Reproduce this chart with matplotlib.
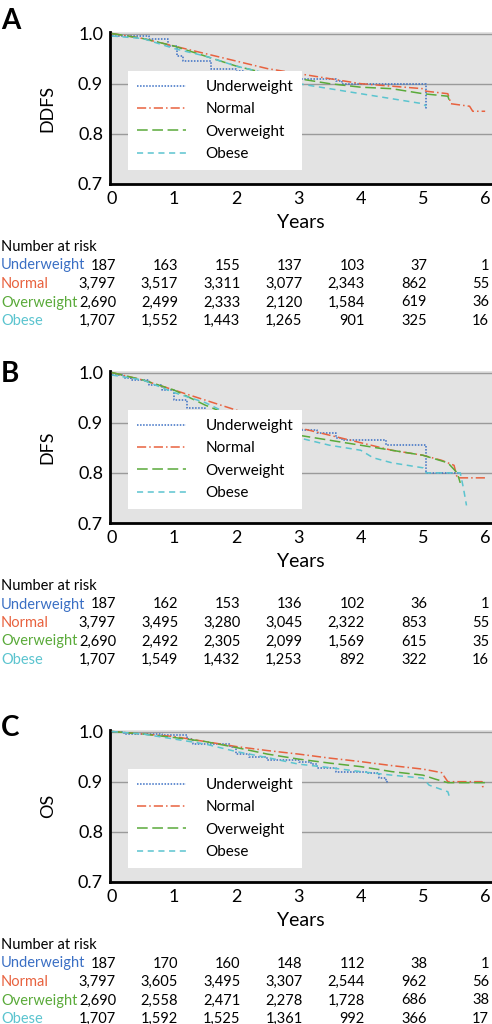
import matplotlib
matplotlib.use('Agg')
import matplotlib.pyplot as plt

plt.rcParams['font.family'] = ['Lato', 'DejaVu Sans']

W, H = 492, 1024
groups = ['Underweight', 'Normal', 'Overweight', 'Obese']
colors = ['#3a6fc4', '#e8623f', '#5aaa3a', '#5bc4cf']
styles = [(0, (1, 1)), (0, (6, 2, 1, 2)), (0, (7, 3)), (0, (4, 3))]
years = [0, 1, 2, 3, 4, 5, 6]

# panel A: DDFS
a_t = [
    [0, 0.6, 0.9, 1.05, 1.15, 1.6, 2.0, 2.1, 3.0, 3.6, 3.7, 5.05, 5.06],
    [0, 0.5, 1, 1.5, 2, 2.5, 3, 3.5, 4, 4.5, 5, 5.05, 5.4, 5.45, 5.75, 5.8, 6.0],
    [0, 0.5, 1, 1.5, 2, 2.5, 3, 3.5, 4, 4.5, 5, 5.4, 5.42],
    [0, 0.5, 1, 1.5, 2, 2.5, 3, 3.5, 4, 4.5, 5, 5.05],
]
a_s = [
    [0.995, 0.99, 0.975, 0.955, 0.945, 0.93, 0.925, 0.915, 0.91, 0.905, 0.9, 0.85, 0.85],
    [1.0, 0.99, 0.975, 0.96, 0.945, 0.93, 0.92, 0.91, 0.9, 0.895, 0.89, 0.885, 0.88, 0.86, 0.855, 0.845, 0.845],
    [1.0, 0.99, 0.975, 0.955, 0.935, 0.92, 0.91, 0.9, 0.893, 0.89, 0.88, 0.875, 0.868],
    [0.995, 0.99, 0.97, 0.955, 0.935, 0.92, 0.9, 0.89, 0.88, 0.87, 0.86, 0.855],
]
a_risk = [
    ['187', '163', '155', '137', '103', '37', '1'],
    ['3,797', '3,517', '3,311', '3,077', '2,343', '862', '55'],
    ['2,690', '2,499', '2,333', '2,120', '1,584', '619', '36'],
    ['1,707', '1,552', '1,443', '1,265', '901', '325', '16'],
]

# panel B: DFS
b_t = [
    [0, 0.2, 0.3, 0.6, 0.8, 1.0, 1.2, 1.5, 1.6, 2.0, 2.1, 2.5, 3.0, 3.3, 3.6, 3.7, 4.4, 5.05, 5.6],
    [0, 0.5, 1, 1.5, 2, 2.5, 3, 3.5, 4, 4.5, 5, 5.3, 5.5, 5.55, 6.0],
    [0, 0.5, 1, 1.5, 2, 2.5, 3, 3.5, 4, 4.5, 5, 5.4, 5.55, 5.6],
    [0, 0.5, 1, 1.5, 2, 2.5, 3, 3.5, 4, 4.2, 4.5, 5, 5.05, 5.6, 5.65, 5.7],
]
b_s = [
    [0.995, 0.99, 0.985, 0.975, 0.965, 0.945, 0.93, 0.92, 0.91, 0.905, 0.895, 0.89, 0.885, 0.88, 0.87, 0.865, 0.855, 0.8, 0.8],
    [1.0, 0.985, 0.965, 0.945, 0.925, 0.905, 0.89, 0.875, 0.86, 0.845, 0.835, 0.825, 0.815, 0.79, 0.79],
    [1.0, 0.985, 0.965, 0.935, 0.91, 0.895, 0.875, 0.865, 0.855, 0.845, 0.835, 0.82, 0.8, 0.78],
    [0.995, 0.985, 0.96, 0.94, 0.91, 0.89, 0.87, 0.855, 0.845, 0.83, 0.82, 0.81, 0.8, 0.8, 0.77, 0.735],
]
b_risk = [
    ['187', '162', '153', '136', '102', '36', '1'],
    ['3,797', '3,495', '3,280', '3,045', '2,322', '853', '55'],
    ['2,690', '2,492', '2,305', '2,099', '1,569', '615', '35'],
    ['1,707', '1,549', '1,432', '1,253', '892', '322', '16'],
]

# panel C: OS
c_t = [
    [0, 0.2, 0.8, 1.2, 1.3, 1.9, 2.0, 2.2, 2.5, 3.0, 3.2, 3.3, 3.6, 4.1, 4.3, 4.4, 4.42],
    [0, 0.5, 1, 1.5, 2, 2.5, 3, 3.5, 4, 4.5, 5, 5.3, 5.4, 5.95, 5.96, 6.0],
    [0, 0.5, 1, 1.5, 2, 2.5, 3, 3.5, 4, 4.5, 5, 5.2, 5.4, 6.0],
    [0, 0.5, 1, 1.5, 2, 2.5, 3, 3.5, 4, 4.5, 5, 5.1, 5.4, 5.42],
]
c_s = [
    [1.0, 0.995, 0.993, 0.985, 0.975, 0.97, 0.955, 0.95, 0.944, 0.94, 0.935, 0.927, 0.92, 0.918, 0.907, 0.903, 0.895],
    [1.0, 0.995, 0.99, 0.98, 0.97, 0.962, 0.955, 0.947, 0.94, 0.932, 0.925, 0.918, 0.9, 0.9, 0.89, 0.89],
    [1.0, 0.995, 0.988, 0.98, 0.968, 0.955, 0.945, 0.937, 0.93, 0.92, 0.913, 0.905, 0.898, 0.898],
    [1.0, 0.995, 0.985, 0.975, 0.96, 0.948, 0.935, 0.928, 0.92, 0.913, 0.907, 0.893, 0.88, 0.872],
]
c_risk = [
    ['187', '170', '160', '148', '112', '38', '1'],
    ['3,797', '3,605', '3,495', '3,307', '2,544', '962', '56'],
    ['2,690', '2,558', '2,471', '2,278', '1,728', '686', '38'],
    ['1,707', '1,592', '1,525', '1,361', '992', '366', '17'],
]

panels = [
    ('A', 'DDFS', a_t, a_s, a_risk, 8, 32),
    ('B', 'DFS', b_t, b_s, b_risk, 361, 371),
    ('C', 'OS', c_t, c_s, c_risk, 715, 730),
]

fig = plt.figure(figsize=(W / 100, H / 100), dpi=100)


def fx(px):
    return px / W


def fy(py):
    return 1 - py / H


for letter, ylab, ts, ss, risk, ly, top in panels:
    bottom = top + 152
    ax = fig.add_axes([fx(110), fy(bottom), fx(382), 152 / H])
    ax.set_facecolor('#e3e3e3')
    for y in [0.8, 0.9, 1.0]:
        ax.axhline(y, color='#9a9a9a', lw=1, zorder=1)
    for i, (t, s, c, ls, g) in enumerate(zip(ts, ss, colors, styles, groups)):
        if i == 0:
            ax.step(t, s, where='post', color=c, ls=ls, lw=1.1, label=g, zorder=3)
        else:
            ax.plot(t, s, color=c, ls=ls, lw=1.1, label=g, zorder=3)
    ax.set_xlim(-0.03, 6.11)
    ax.set_ylim(0.7, 1.003)
    ax.set_yticks([0.7, 0.8, 0.9, 1.0])
    ax.set_yticklabels(['0.7', '0.8', '0.9', '1.0'])
    ax.set_xticks(years)
    ax.tick_params(length=0, labelsize=13, pad=5)
    for sp in ['top', 'right']:
        ax.spines[sp].set_visible(False)
    for sp in ['left', 'bottom']:
        ax.spines[sp].set_linewidth(2)
    ax.set_ylabel(ylab, fontsize=13, labelpad=16)
    ax.set_xlabel('Years', fontsize=14, labelpad=5)
    leg = ax.legend(loc='lower left', bbox_to_anchor=(0.026, 0.04), fontsize=11,
                    frameon=True, fancybox=False, edgecolor='white',
                    framealpha=1, handlelength=3.2, handletextpad=1.3,
                    borderpad=0.6, labelspacing=0.55)
    leg.get_frame().set_linewidth(0)
    fig.text(fx(1), fy(ly), letter, fontsize=20, fontweight='bold', va='top')
    nar_y = bottom + 63
    fig.text(fx(1), fy(nar_y), 'Number at risk', fontsize=10.5, va='center')
    for i, (g, c) in enumerate(zip(groups, colors)):
        yy = nar_y + 18.5 * (i + 1)
        fig.text(fx(1), fy(yy), g, fontsize=10.5, color=c, va='center')
        for k, v in enumerate(risk[i]):
            xx = 116 + 62.2 * k
            fig.text(fx(xx), fy(yy), v, fontsize=10.5, ha='right', va='center')

fig.savefig('out.png', dpi=100)
